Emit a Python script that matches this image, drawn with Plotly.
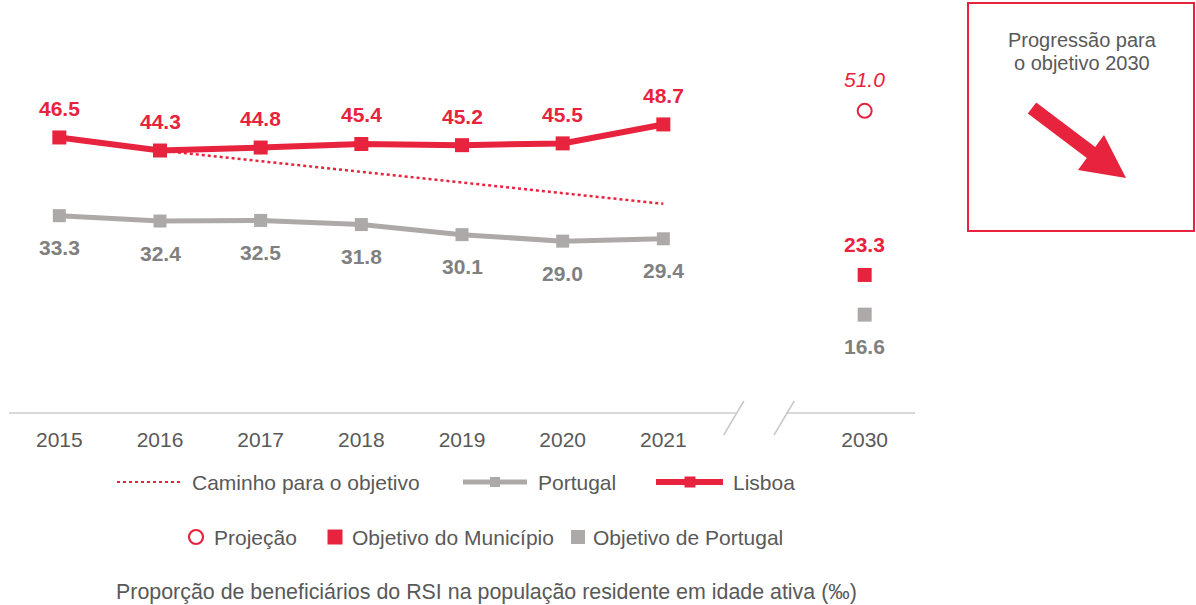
import plotly.graph_objects as go

# --- data -------------------------------------------------------------
years = ["2015", "2016", "2017", "2018", "2019", "2020", "2021"]
lisboa = [46.5, 44.3, 44.8, 45.4, 45.2, 45.5, 48.7]
portugal = [33.3, 32.4, 32.5, 31.8, 30.1, 29.0, 29.4]
caminho = [None, 44.3, 42.5, 40.7, 38.9, 37.1, 35.3]

target_year = "2030"
projecao = 51.0
objetivo_municipio = 23.3
objetivo_portugal = 16.6

# x positions: one slot per year, one empty slot for the axis break, then 2030
x_years = list(range(len(years)))
x_target = len(years) + 1

RED = "#E8233D"
GRAY = "#ADA9A9"
GRAY_TXT = "#808080"
TXT = "#595959"
FONT = "Liberation Sans"

W, H = 1196, 605
ML, MR, MT, MB = 9, 281, 0, 192
PW, PH = W - ML - MR, H - MT - MB


def px(x):
    # pixel -> paper (x)
    return (x - ML) / PW


def py(y):
    # pixel -> paper (y)
    return (MT + PH - y) / PH


fig = go.Figure()

fig.add_trace(go.Scatter(
    x=x_years, y=caminho, mode="lines", name="Caminho para o objetivo",
    line=dict(color=RED, width=2.5, dash="dot"), hoverinfo="skip"))
fig.add_trace(go.Scatter(
    x=x_years, y=portugal, mode="lines+markers", name="Portugal",
    line=dict(color=GRAY, width=5), marker=dict(symbol="square", size=13, color=GRAY)))
fig.add_trace(go.Scatter(
    x=x_years, y=lisboa, mode="lines+markers", name="Lisboa",
    line=dict(color=RED, width=6), marker=dict(symbol="square", size=14, color=RED)))
fig.add_trace(go.Scatter(
    x=[x_target], y=[projecao], mode="markers", name="Projeção",
    marker=dict(symbol="circle-open", size=14, color=RED, line=dict(width=2, color=RED))))
fig.add_trace(go.Scatter(
    x=[x_target], y=[objetivo_municipio], mode="markers", name="Objetivo do Município",
    marker=dict(symbol="square", size=14, color=RED)))
fig.add_trace(go.Scatter(
    x=[x_target], y=[objetivo_portugal], mode="markers", name="Objetivo de Portugal",
    marker=dict(symbol="square", size=14, color=GRAY)))

# --- value labels -----------------------------------------------------
ann = []


def label(x, y, text, color, shift):
    ann.append(dict(x=x, y=y, xref="x", yref="y", text=text, showarrow=False,
                    yshift=shift, font=dict(family=FONT, size=21, color=color)))


for x, v in zip(x_years, lisboa):
    label(x, v, f"<b>{v:.1f}</b>", RED, 29)
for x, v in zip(x_years, portugal):
    label(x, v, f"<b>{v:.1f}</b>", GRAY_TXT, -32)
label(x_target, projecao, f"<i>{projecao:.1f}</i>", RED, 31)
label(x_target, objetivo_municipio, f"<b>{objetivo_municipio:.1f}</b>", RED, 30)
label(x_target, objetivo_portugal, f"<b>{objetivo_portugal:.1f}</b>", GRAY_TXT, -32)

# --- broken x axis ----------------------------------------------------
shapes = []
brk = [6.72, 7.22]
axis_line = dict(color="#D9D9D9", width=2)
shapes.append(dict(type="line", xref="x", yref="paper", x0=-0.5, x1=brk[0], y0=0, y1=0, line=axis_line))
shapes.append(dict(type="line", xref="x", yref="paper", x0=brk[1], x1=8.5, y0=0, y1=0, line=axis_line))
for b in brk:
    shapes.append(dict(type="line", xref="x", yref="paper", x0=b - 0.12, x1=b + 0.08,
                       y0=py(435), y1=py(401), line=dict(color="#C8C8C8", width=1.5)))


# --- legend (drawn by hand to match the layout) -----------------------
def text(x, y, t, size=21, anchor="left"):
    ann.append(dict(x=px(x), y=py(y), xref="paper", yref="paper", text=t, showarrow=False,
                    xanchor=anchor, yanchor="middle", font=dict(family=FONT, size=size, color=TXT)))


def pline(x0, x1, y, color, width, dash="solid"):
    shapes.append(dict(type="line", xref="paper", yref="paper", x0=px(x0), x1=px(x1),
                       y0=py(y), y1=py(y), line=dict(color=color, width=width, dash=dash)))


def psq(cx, cy, s, color, kind="rect", fill=True, lw=0):
    shapes.append(dict(type=kind, xref="paper", yref="paper",
                       x0=px(cx - s / 2), x1=px(cx + s / 2), y0=py(cy + s / 2), y1=py(cy - s / 2),
                       fillcolor=color if fill else "rgba(0,0,0,0)",
                       line=dict(color=color, width=lw)))


r1, r2 = 482, 537
pline(117, 180, r1, RED, 2, "dot")
text(190, r1, "Caminho para o objetivo")
pline(463, 527, r1, GRAY, 5)
psq(495, r1, 10, GRAY)
text(536, r1, "Portugal")
pline(656, 723, r1, RED, 6)
psq(690, r1, 11, RED)
text(731, r1, "Lisboa")

psq(196, r2, 14, RED, kind="circle", fill=False, lw=2.2)
text(212, r2, "Projeção")
psq(335, r2, 15, RED)
text(350, r2, "Objetivo do Município")
psq(578, r2, 14, GRAY)
text(591, r2, "Objetivo de Portugal")

text(486, 592, "Proporção de beneficiários do RSI na população residente em idade ativa (‰)",
     size=21.4, anchor="center")

# --- side box ---------------------------------------------------------
shapes.append(dict(type="rect", xref="paper", yref="paper", x0=px(968), x1=px(1194),
                   y0=py(231), y1=py(3), line=dict(color=RED, width=2)))
text(1082, 40, "Progressão para", size=20, anchor="center")
text(1082, 63, "o objetivo 2030", size=20, anchor="center")
arrow = [(1027.8, 113.6), (1036.2, 102.4), (1095.2, 146.9), (1104, 135),
         (1126, 178), (1078, 170), (1086.8, 158.1)]
path = "M " + " L ".join(f"{px(a):.4f},{py(b):.4f}" for a, b in arrow) + " Z"
shapes.append(dict(type="path", xref="paper", yref="paper", path=path,
                   fillcolor=RED, line=dict(color=RED, width=0)))

fig.update_layout(
    width=W, height=H,
    margin=dict(l=ML, r=MR, t=MT, b=MB),
    paper_bgcolor="white", plot_bgcolor="white",
    showlegend=False,
    annotations=ann, shapes=shapes,
    xaxis=dict(range=[-0.5, 8.5], tickvals=x_years + [x_target], ticktext=years + [target_year],
               showgrid=False, zeroline=False, showline=False,
               ticks="outside", ticklen=8, tickcolor="rgba(0,0,0,0)",
               tickfont=dict(family=FONT, size=21, color=TXT)),
    yaxis=dict(range=[0, 69.7], visible=False, showgrid=False, zeroline=False),
)

# the page body has a default 8px margin; drop it so the chart fills the window
fig.write_html("out.html", config={"displayModeBar": False},
               post_script="document.body.style.margin='0';")
